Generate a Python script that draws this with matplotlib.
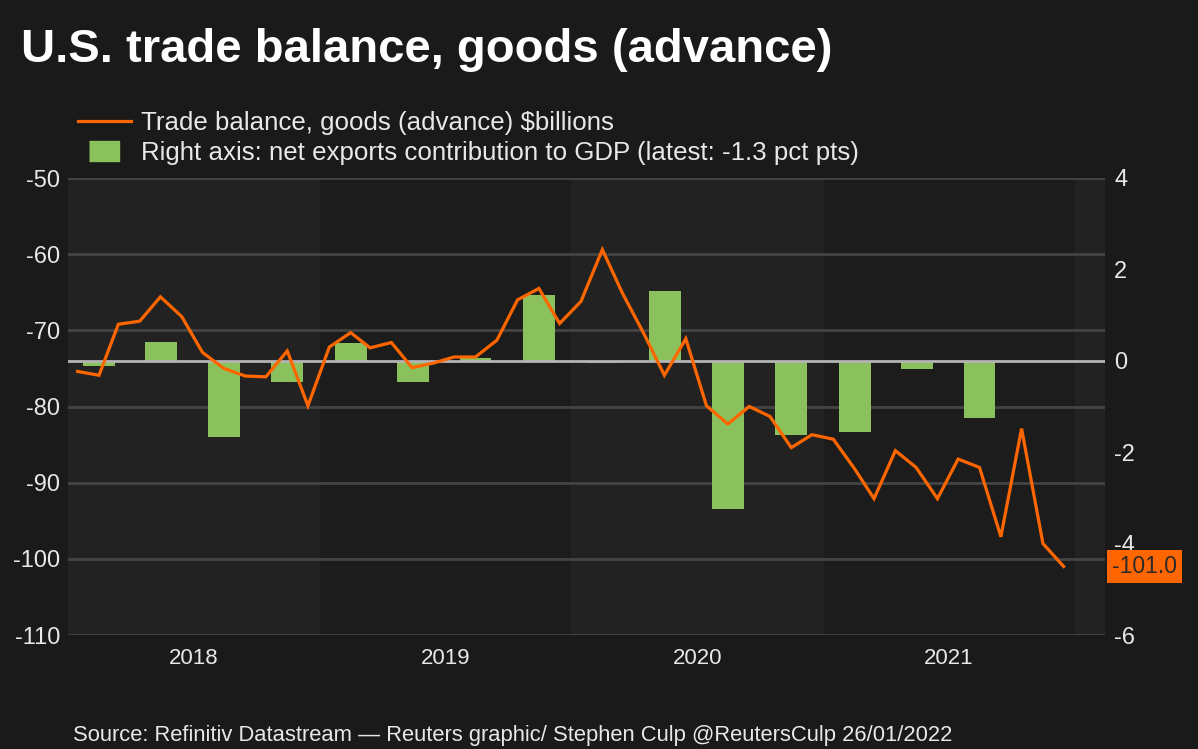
import matplotlib
matplotlib.use('Agg')
import matplotlib.pyplot as plt
import pandas as pd
from matplotlib.lines import Line2D

plt.rcParams['font.family'] = ['Liberation Sans', 'DejaVu Sans']

# ---------------- data ----------------
title = "U.S. trade balance, goods (advance)"
source = "Source: Refinitiv Datastream \u2014 Reuters graphic/ Stephen Culp @ReutersCulp 26/01/2022"
line_label = "Trade balance, goods (advance) $billions"
bar_label = "Right axis: net exports contribution to GDP (latest: -1.3 pct pts)"

# monthly goods trade balance, Jan 2018 - Dec 2021 ($bn)
trade_balance = [-75.4, -75.9, -69.2, -68.8, -65.6, -68.2, -72.9, -75.0, -76.0, -76.1, -72.7, -79.9,
                 -72.2, -70.3, -72.3, -71.6, -74.9, -74.3, -73.5, -73.5, -71.3, -66.0, -64.5, -69.1,
                 -66.2, -59.4, -65.1, -70.4, -75.9, -71.1, -79.9, -82.3, -80.0, -81.3, -85.4, -83.7,
                 -84.3, -88.2, -92.1, -85.8, -88.0, -92.1, -86.9, -88.0, -97.1, -82.9, -98.0, -101.0]
# quarterly net exports contribution to GDP, Q1 2018 - Q3 2021 (pct pts)
net_exports = [-0.12, 0.42, -1.66, -0.47, 0.39, -0.47, 0.07, 1.43,
               -0.05, 1.52, -3.24, -1.62, -1.55, -0.18, -1.26]
years = [2018, 2019, 2020, 2021]
left_ticks = [-110, -100, -90, -80, -70, -60, -50]
right_ticks = [-6, -4, -2, 0, 2, 4]

months = pd.date_range('2018-01-01', periods=len(trade_balance), freq='MS') + pd.Timedelta(days=14)
quarters = pd.date_range('2018-01-01', periods=len(net_exports), freq='QS') + pd.Timedelta(days=45)

# ---------------- style ----------------
BG = '#1a1a1a'
BAND_LIGHT = '#222222'
BAND_DARK = '#1c1c1c'
GRID = '#444444'
ZERO = '#b4b4b4'
ORANGE = '#ff6600'
GREEN = '#8bc15c'
TXT = '#e8e8e8'

fig = plt.figure(figsize=(11.98, 7.49), dpi=100, facecolor=BG)
W, H = 1198, 749
rect = [68 / W, 1 - 635 / H, (1105 - 68) / W, (635 - 178) / H]

ax0 = fig.add_axes(rect)
ax2 = fig.add_axes(rect, sharex=ax0)
ax = fig.add_axes(rect, sharex=ax0, sharey=ax0)
ax0.set_zorder(0)
ax2.set_zorder(1)
ax.set_zorder(2)

# background bands & grid
ax0.set_facecolor(BAND_DARK)
xmin = pd.Timestamp('2018-01-01')
xmax = pd.Timestamp('2022-02-13')
for y in years + [2022]:
    if (y - 2018) % 2 == 0:
        ax0.axvspan(pd.Timestamp(f'{y}-01-01'), pd.Timestamp(f'{y + 1}-01-01'),
                    color=BAND_LIGHT, lw=0, zorder=0)
ax0.set_xlim(xmin, xmax)
ax0.set_ylim(-110, -50)
ax0.set_yticks(left_ticks)
ax0.grid(axis='y', color=GRID, lw=2)
ax0.grid(axis='x', visible=False)
ax0.tick_params(left=False, bottom=False, labelleft=False, labelbottom=False)

# bars (right axis)
ax2.patch.set_visible(False)
ax2.bar(quarters, net_exports, width=46, color=GREEN, zorder=2)
ax2.axhline(0, color=ZERO, lw=2, zorder=3)
ax2.set_ylim(-6, 4)
ax2.set_yticks(right_ticks)
ax2.set_yticklabels([str(t) for t in right_ticks])
ax2.yaxis.tick_right()
ax2.tick_params(axis='y', right=False, left=False, labelright=True, labelleft=False,
                labelsize=17, labelcolor=TXT, pad=3)
ax2.tick_params(axis='x', bottom=False, labelbottom=False)

# line (left axis)
ax.patch.set_visible(False)
ax.plot(months, trade_balance, color=ORANGE, lw=2.3, solid_joinstyle='miter', zorder=3)
ax.set_yticks(left_ticks)
ax.set_yticklabels([str(t) for t in left_ticks])
ax.tick_params(axis='y', left=False, labelsize=17, labelcolor=TXT, pad=2)
ax.set_xticks([pd.Timestamp(f'{y}-07-02') for y in years])
ax.set_xticklabels([str(y) for y in years])
ax.tick_params(axis='x', bottom=False, labelsize=16, labelcolor=TXT, pad=6)
ax.grid(False)

for a in (ax0, ax2, ax):
    for s in a.spines.values():
        s.set_visible(False)

# latest value tag
ax.annotate(f'{trade_balance[-1]:.1f}', xy=(1, trade_balance[-1]),
            xycoords=('axes fraction', 'data'), xytext=(5, 0), textcoords='offset points',
            ha='left', va='center', fontsize=16.5, color='#2a2a2a',
            bbox=dict(boxstyle='square,pad=0.2', fc=ORANGE, ec='none'))

# legend
handles = [Line2D([], [], color=ORANGE, lw=2.3),
           Line2D([], [], color=GREEN, marker=[(-1.5, -1), (1.5, -1), (1.5, 1), (-1.5, 1)],
                  markersize=22, linestyle='none')]
fig.legend(handles, [line_label, bar_label], loc='upper left',
           bbox_to_anchor=(78 / W, 1 - 111 / H), frameon=False, fontsize=18.6,
           labelcolor=TXT, handlelength=2.05, handletextpad=0.4, labelspacing=0.24,
           borderpad=0, borderaxespad=0)

fig.text(21 / W, 1 - 62 / H, title, fontsize=34, fontweight='bold', color='white', va='baseline')
fig.text(73 / W, 1 - 741 / H, source, fontsize=15.8, color=TXT, va='baseline')

fig.savefig('out.png', dpi=100, facecolor=BG)
